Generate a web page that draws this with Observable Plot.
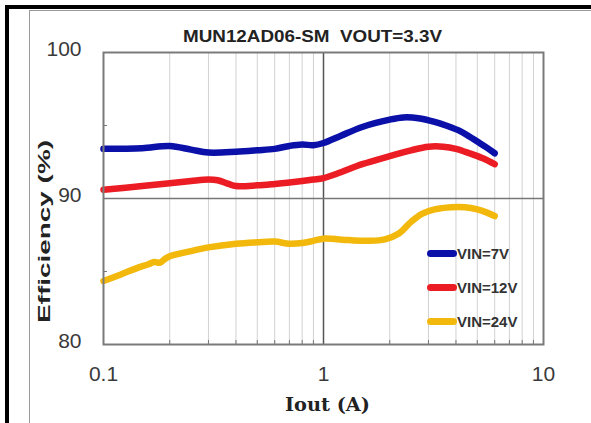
<!DOCTYPE html>
<html>
<head>
<meta charset="utf-8">
<script src="https://cdn.jsdelivr.net/npm/d3@7"></script>
<script src="https://cdn.jsdelivr.net/npm/@observablehq/plot@0.6"></script>
<style>
  html, body { margin: 0; padding: 0; background: #fff; }
  #wrap { position: relative; width: 591px; height: 423px; overflow: hidden; background: #fff; }
  #wrap svg { position: absolute; left: 0; top: 0; }
  .bar { position: absolute; background: #000; }
  .gl { position: absolute; background: #9a9a9a; }
  #legend { position: absolute; left: 427px; top: 236px; font-family: "Liberation Sans", Arial, sans-serif; font-weight: bold; font-size: 15px; color: #333; }
  #legend .row { display: flex; align-items: center; height: 34px; }
  #legend .sw { width: 30px; height: 7px; border-radius: 3.5px; }
</style>
</head>
<body>
<div id="wrap">
  <div class="gl" style="left:29px;top:10px;width:562px;height:1px"></div>
  <div class="gl" style="left:29px;top:10px;width:1px;height:413px"></div>
  <div class="bar" style="left:5px;top:5px;width:586px;height:4px"></div>
  <div class="bar" style="left:5px;top:5px;width:4px;height:418px"></div>
  <div id="legend"></div>
</div>
<script>
// ---- data ----
const titleText = "MUN12AD06-SM  VOUT=3.3V";
const xLabel = "Iout (A)";
const yLabel = "Efficiency (%)";
const xTicks = [0.1, 1, 10];
const xTickLabels = ["0.1", "1", "10"];
const yTicks = [80, 90, 100];
const xMinor = [0.2, 0.3, 0.4, 0.5, 0.6, 0.7, 0.8, 0.9, 2, 3, 4, 5, 6, 7, 8, 9];
const yMinor = [85, 95];

const seriesNames = ["VIN=7V", "VIN=12V", "VIN=24V"];
const seriesColors = ["#0a10a8", "#ec1c24", "#f2b80c"];

const iout7 = [0.1, 0.15, 0.2, 0.25, 0.3, 0.4, 0.5, 0.6, 0.7, 0.8, 0.9, 1.0, 1.2, 1.5, 2.0, 2.3, 2.7, 3.2, 3.6, 4.2, 4.6, 5.0, 5.5, 6.0];
const eff7  = [93.4, 93.45, 93.6, 93.35, 93.15, 93.2, 93.3, 93.4, 93.6, 93.7, 93.65, 93.8, 94.3, 94.9, 95.4, 95.55, 95.5, 95.25, 95.0, 94.6, 94.25, 93.9, 93.5, 93.1];

const iout12 = [0.1, 0.15, 0.2, 0.25, 0.3, 0.33, 0.37, 0.4, 0.5, 0.6, 0.7, 0.8, 0.9, 1.0, 1.2, 1.5, 2.0, 2.5, 3.0, 3.5, 4.0, 4.6, 5.3, 6.0];
const eff12  = [90.6, 90.85, 91.05, 91.2, 91.3, 91.25, 91.0, 90.85, 90.9, 91.0, 91.1, 91.2, 91.3, 91.4, 91.8, 92.35, 92.9, 93.3, 93.55, 93.55, 93.4, 93.1, 92.75, 92.35];

const iout24 = [0.1, 0.12, 0.14, 0.16, 0.17, 0.18, 0.19, 0.2, 0.25, 0.3, 0.4, 0.5, 0.6, 0.7, 0.8, 0.9, 1.0, 1.3, 1.6, 1.9, 2.2, 2.5, 2.8, 3.2, 3.8, 4.4, 5.0, 5.5, 6.0];
const eff24  = [84.35, 84.8, 85.2, 85.5, 85.65, 85.6, 85.85, 86.05, 86.4, 86.65, 86.9, 87.0, 87.05, 86.9, 86.95, 87.1, 87.25, 87.15, 87.1, 87.2, 87.6, 88.4, 88.95, 89.25, 89.4, 89.4, 89.25, 89.05, 88.8];

// ---- build table ----
const seriesX = [iout7, iout12, iout24];
const seriesY = [eff7, eff12, eff24];
const rows = [];
seriesNames.forEach((name, k) => {
  seriesX[k].forEach((x, i) => rows.push({series: name, x, y: seriesY[k][i]}));
});

const tickFont = "Liberation Sans, Arial, sans-serif";

const plot = Plot.plot({
  width: 591,
  height: 423,
  marginLeft: 103,
  marginRight: 48,
  marginTop: 52,
  marginBottom: 79,
  style: {fontFamily: tickFont, background: "transparent", overflow: "visible"},
  x: {type: "log", domain: [0.1, 10]},
  y: {domain: [80, 100]},
  color: {domain: seriesNames, range: seriesColors},
  marks: [
    Plot.ruleX(xMinor, {stroke: "#d2d2d2", strokeWidth: 1}),
    Plot.ruleX([1], {stroke: "#555", strokeWidth: 1.5}),
    Plot.ruleY([90], {stroke: "#777", strokeWidth: 1.5}),
    Plot.axisX({ticks: xMinor, tickSize: -4, tickFormat: () => "", stroke: "#777", label: null}),
    Plot.axisY({ticks: yMinor, tickSize: -4, tickFormat: () => "", stroke: "#777", label: null}),
    Plot.axisX({ticks: xTicks, tickSize: 0, tickPadding: 22, fontSize: 21, fill: "#3a3a3a",
      tickFormat: (d) => xTickLabels[xTicks.indexOf(d)], label: null}),
    Plot.axisY({ticks: yTicks, tickSize: 0, tickPadding: 22, fontSize: 21, fill: "#3a3a3a", dy: -3, label: null}),
    Plot.line(rows, {x: "x", y: "y", z: "series", stroke: "series", strokeWidth: 6.5, curve: "catmull-rom", strokeLinecap: "round"}),
    Plot.frame({stroke: "#7a7a7a", strokeWidth: 2}),
    Plot.text([titleText], {frameAnchor: "top", dx: -11, dy: -22, fontSize: 16, fontWeight: "bold", fill: "#222"}),
    Plot.text([yLabel], {frameAnchor: "left", textAnchor: "middle", rotate: -90, dx: -59, dy: 33, fontSize: 16, fontWeight: "bold", fill: "#222"}),
    Plot.text([xLabel], {frameAnchor: "bottom", dx: 4, dy: 66, fontSize: 19, fontWeight: "bold", fill: "#222", fontFamily: "DejaVu Serif, serif"})
  ]
});

// stretch the labels to the reference widths
const lengths = {[titleText]: 259, [yLabel]: 183, [xLabel]: 85};
plot.querySelectorAll("text").forEach((t) => {
  const L = lengths[t.textContent];
  if (L) { t.setAttribute("textLength", L); t.setAttribute("lengthAdjust", "spacingAndGlyphs"); }
});

const wrap = document.getElementById("wrap");
wrap.insertBefore(plot, wrap.firstChild);

const legend = document.getElementById("legend");
seriesNames.forEach((name, k) => {
  const row = document.createElement("div");
  row.className = "row";
  const sw = document.createElement("div");
  sw.className = "sw";
  sw.style.background = seriesColors[k];
  const lab = document.createElement("span");
  lab.textContent = name;
  row.appendChild(sw);
  row.appendChild(lab);
  legend.appendChild(row);
});
</script>
</body>
</html>
